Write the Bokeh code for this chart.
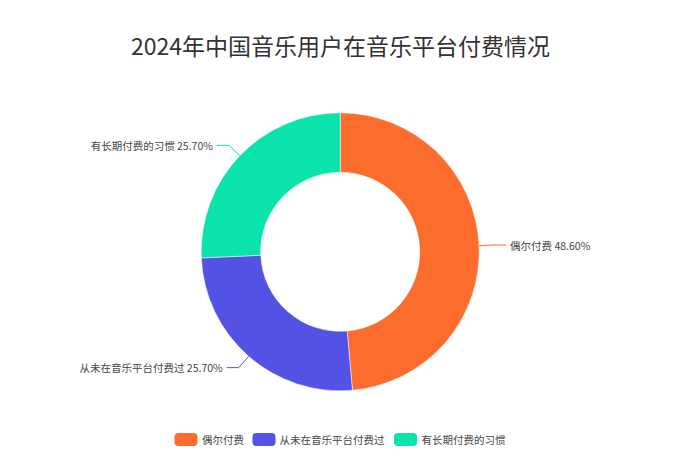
import numpy as np
from bokeh.plotting import figure
from bokeh.models import Range1d, ColumnDataSource
from bokeh.core.properties import value
from bokeh.embed import file_html
from bokeh.resources import INLINE

title = "2024年中国音乐用户在音乐平台付费情况"
categories = ["偶尔付费", "从未在音乐平台付费过", "有长期付费的习惯"]
values = [48.6, 25.7, 25.7]
colors = ["#FC6C2D", "#5352E5", "#0BE3AD"]

W, H = 679, 446
FONT = "Noto Sans CJK SC"

def sx(x):
    return x

def sy(y):
    return H - y

p = figure(width=W, height=H, x_range=Range1d(0, W), y_range=Range1d(0, H),
           output_backend="svg", toolbar_location=None, min_border=0)
p.axis.visible = False
p.grid.visible = False
p.outline_line_color = None
p.background_fill_color = "white"

cx, cy = sx(339.7), sy(251.3)
r_in, r_out = 79.5, 139.0

vals = np.array(values, dtype=float)
frac = vals / vals.sum()
cum = np.concatenate([[0], np.cumsum(frac)])
start = np.pi / 2 - cum[:-1] * 2 * np.pi
end = np.pi / 2 - cum[1:] * 2 * np.pi

src = ColumnDataSource(dict(start=list(start), end=list(end), color=colors, cat=categories))
p.annular_wedge(x=cx, y=cy, inner_radius=r_in, outer_radius=r_out,
                start_angle="start", end_angle="end", direction="clock",
                fill_color="color", line_color="white", line_width=0.5, source=src)

# labels
mid = (start + end) / 2
for i, cat in enumerate(categories):
    a = mid[i]
    x0, y0 = cx + r_out * np.cos(a), cy + r_out * np.sin(a)
    x1, y1 = cx + (r_out + 15) * np.cos(a), cy + (r_out + 15) * np.sin(a)
    side = 1 if np.cos(a) >= 0 else -1
    x2 = x1 + side * 12
    p.line([x0, x1, x2], [y0, y1, y1], line_color=colors[i], line_width=1)
    p.text(x=[x2 + side * 4], y=[y1], text=[f"{cat} {values[i]:.2f}%"],
           text_font=value(FONT), text_font_size="10.5px", text_color="#444444",
           text_align="left" if side > 0 else "right", text_baseline="middle")

# title
p.text(x=[sx(340)], y=[sy(44)], text=[title], text_font=value(FONT),
       text_font_size="23px", text_color="#333333", text_align="center",
       text_baseline="middle")

# legend
leg_rect_cx = [185.5, 263.5, 405.0]
leg_text_x = [201.5, 279.0, 421.0]
leg_y = sy(439)
for i, cat in enumerate(categories):
    xc = sx(leg_rect_cx[i])
    p.quad(left=[xc - 11.5], right=[xc + 11.5], bottom=[leg_y - 6.5], top=[leg_y + 6.5],
           fill_color=colors[i], line_color=None, border_radius=4)
    p.text(x=[sx(leg_text_x[i])], y=[leg_y], text=[cat], text_font=value(FONT),
           text_font_size="10.5px", text_color="#444444", text_align="left",
           text_baseline="middle")

open("out.html", "w").write(file_html(p, INLINE))
